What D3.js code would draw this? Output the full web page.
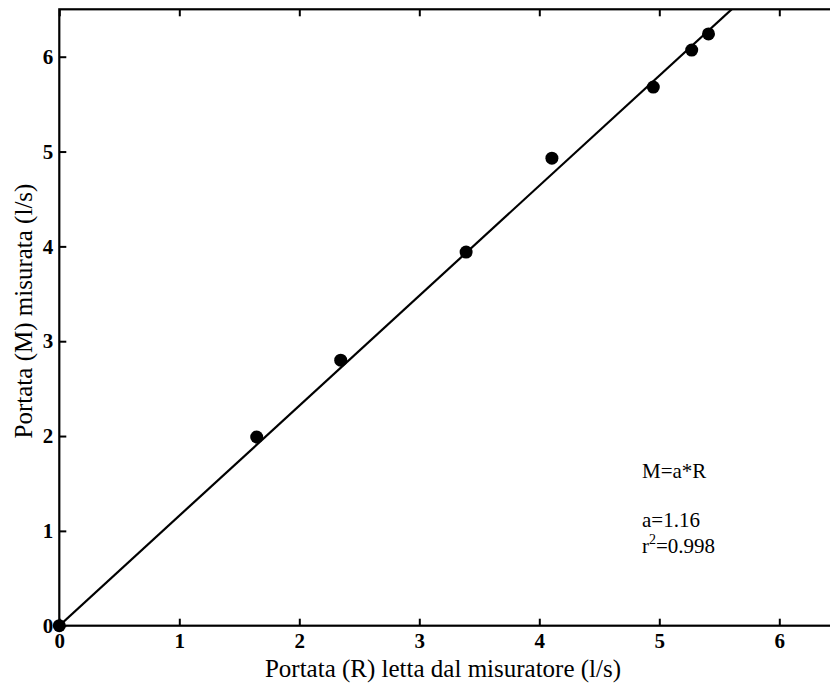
<!DOCTYPE html>
<html>
<head>
<meta charset="utf-8">
<script src="https://cdn.jsdelivr.net/npm/d3@7"></script>
<style>
  body { margin: 0; background: #fff; }
  svg { display: block; }
  .tick text { font-family: "Liberation Serif", "Times New Roman", serif; font-weight: bold; font-size: 21px; fill: #000; }
  .lbl { font-family: "Liberation Serif", "Times New Roman", serif; font-size: 25px; fill: #000; }
  .ann { font-family: "Liberation Serif", "Times New Roman", serif; font-size: 21px; fill: #000; }
</style>
</head>
<body>
<div id="grafico"></div>
<script>
// Dati
const portataR = [0, 1.645, 2.345, 3.39, 4.105, 4.95, 5.27, 5.41];
const portataM = [0, 1.99, 2.80, 3.94, 4.93, 5.68, 6.07, 6.24];
const coeffA = 1.16;
const tickX = [0, 1, 2, 3, 4, 5, 6];
const tickY = [0, 1, 2, 3, 4, 5, 6];
const testi = ['M=a*R', 'a=1.16', 'r', '=0.998'];

function creaGrafico() {
  const larghezza = 830;
  const altezza = 684;

  const svg = d3.select('#grafico')
    .append('svg')
    .attr('width', larghezza)
    .attr('height', altezza);

  // Scale
  const x = d3.scaleLinear().domain([0, 6.5]).range([59.3, 839.3]);
  const y = d3.scaleLinear().domain([0, 6.5]).range([625.7, 9.3]);

  const [x0, x1] = x.range();
  const [y0, y1] = y.range();

  svg.append('clipPath').attr('id', 'clip')
    .append('rect')
    .attr('x', x0).attr('y', y1)
    .attr('width', x1 - x0).attr('height', y0 - y1);

  // Assi
  const axB = svg.append('g')
    .attr('transform', `translate(0,${y0})`)
    .call(d3.axisBottom(x).tickValues(tickX).tickSizeInner(-7).tickSizeOuter(0).tickPadding(7).tickFormat(d3.format('d')));
  const axL = svg.append('g')
    .attr('transform', `translate(${x0},0)`)
    .call(d3.axisLeft(y).tickValues(tickY).tickSizeInner(-7).tickSizeOuter(0).tickPadding(6).tickFormat(d3.format('d')));
  const axT = svg.append('g')
    .attr('transform', `translate(0,${y1})`)
    .call(d3.axisTop(x).tickValues(tickX).tickSizeInner(-7).tickSizeOuter(0).tickFormat(''));
  const axR = svg.append('g')
    .attr('transform', `translate(${x1},0)`)
    .call(d3.axisRight(y).tickValues(tickY).tickSizeInner(-7).tickSizeOuter(0).tickFormat(''));

  [axB, axL, axT, axR].forEach((g) => {
    g.select('.domain').remove();
    g.selectAll('.tick line').attr('stroke', '#000').attr('stroke-width', 2);
  });

  // Bordo
  svg.append('rect')
    .attr('x', x0).attr('y', y1)
    .attr('width', x1 - x0).attr('height', y0 - y1)
    .attr('fill', 'none')
    .attr('stroke', '#000')
    .attr('stroke-width', 2.2);

  // Retta di regressione
  const retta = [0, 6.5].map((r) => [r, coeffA * r]);
  svg.append('path')
    .datum(retta)
    .attr('clip-path', 'url(#clip)')
    .attr('fill', 'none')
    .attr('stroke', '#000')
    .attr('stroke-width', 2.2)
    .attr('d', d3.line().x((d) => x(d[0])).y((d) => y(d[1])));

  // Punti
  svg.selectAll('.punto')
    .data(portataR.map((r, i) => ({ r: r, m: portataM[i] })))
    .enter()
    .append('circle')
    .attr('class', 'punto')
    .attr('cx', (d) => x(d.r))
    .attr('cy', (d) => y(d.m))
    .attr('r', 6.5)
    .attr('fill', '#000');

  // Etichette assi
  svg.append('text')
    .attr('class', 'lbl')
    .attr('x', 443)
    .attr('y', 677)
    .attr('text-anchor', 'middle')
    .text('Portata (R) letta dal misuratore (l/s)');

  svg.append('text')
    .attr('class', 'lbl')
    .attr('transform', 'translate(32,311) rotate(-90)')
    .attr('text-anchor', 'middle')
    .text('Portata (M) misurata (l/s)');

  // Annotazioni
  svg.append('text').attr('class', 'ann').attr('x', 642).attr('y', 478).text(testi[0]);
  svg.append('text').attr('class', 'ann').attr('x', 642).attr('y', 527).text(testi[1]);
  const t = svg.append('text').attr('class', 'ann').attr('x', 642).attr('y', 553);
  t.append('tspan').text(testi[2]);
  t.append('tspan').attr('dy', -9).attr('font-size', 14).text('2');
  t.append('tspan').attr('dy', 9).text(testi[3]);
}

creaGrafico();
</script>
</body>
</html>
